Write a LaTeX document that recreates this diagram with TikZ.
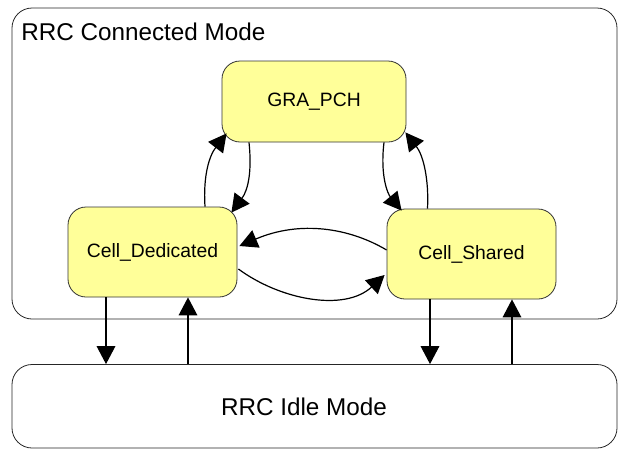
\documentclass[tikz,border=0pt]{standalone}
\usepackage{fontspec}
\setmainfont{Liberation Sans}
\usetikzlibrary{arrows.meta,calc}

\newlength{\du}
\setlength{\du}{0.75pt}
\definecolor{statefill}{rgb}{1.000000, 1.000000, 0.600000}
\definecolor{statedraw}{rgb}{0.200000, 0.200000, 0.200000}
\tikzset{
  modebox/.style={draw=black!85, line width=0.6pt, rounded corners=15pt, inner sep=0pt},
  modetext/.style={inner sep=0pt, font=\fontsize{18.2}{22}\selectfont},
  statebox/.style={draw=statedraw, fill=statefill, line width=0.6pt, rounded corners=13.5pt,
    inner sep=0pt, font=\fontsize{14.5}{17}\selectfont},
  trans/.style={-{Triangle[length=13.5pt,width=14pt]}, line width=0.9pt},
}

\begin{document}
\begin{tikzpicture}[x=1\du, y=-1\du]
\useasboundingbox (0,0) rectangle (618,450);
% modes
\node[modebox, minimum width=605\du, minimum height=311\du] (conn) at (314.5,163.5) {};
\node[modetext, anchor=west] (conntitle) at (21,31.5) {RRC Connected Mode};
\node[modebox, minimum width=605\du, minimum height=83.5\du] (idle) at (314.5,406.25) {};
\node[modetext] (idletitle) at (304,407) {RRC Idle Mode};
% states
\node[statebox, minimum width=184\du, minimum height=81\du] (gra) at (314,101.5) {GRA\_PCH};
\node[statebox, minimum width=169\du, minimum height=90\du] (cd) at (152.5,252) {Cell\_Dedicated};
\node[statebox, minimum width=169\du, minimum height=90\du] (cs) at (471.5,254) {Cell\_Shared};
% transitions inside connected mode
\draw[trans] ($(cd.north)+(52.5,0)$) .. controls +(-2,-32) and +(-17,22) .. ($(gra.south west)+(5,-9)$);
\draw[trans] ($(gra.south)+(-65,0)$) .. controls +(3,28) and +(17,-23) .. ($(cd.north east)+(-6,6)$);
\draw[trans] ($(gra.south)+(70,0)$) .. controls +(-4,33) and +(-14,-17) .. ($(cs.north west)+(15,2)$);
\draw[trans] ($(cs.north)+(-44,0)$) .. controls +(1.5,-29) and +(18,23) .. ($(gra.south east)+(-1,-10)$);
\draw[trans] ($(cs.west)+(0,-4)$) .. controls +(-37,-22) and +(61,-26) .. ($(cd.east)+(2,-6)$);
\draw[trans] ($(cd.east)+(1,17)$) .. controls +(42,31) and +(-40,37) .. ($(cs.west)+(-2,21)$);
% transitions to and from idle mode
\coordinate (cddown) at ($(cd.south)+(-46.5,0)$);
\coordinate (cdup) at ($(cd.south)+(35.5,0)$);
\coordinate (csdown) at ($(cs.south)+(-41.5,0)$);
\coordinate (csup) at ($(cs.south)+(40.5,0)$);
\draw[trans] (cddown) -- (cddown |- idle.north);
\draw[trans] (cdup |- idle.north) -- (cdup);
\draw[trans] (csdown) -- (csdown |- idle.north);
\draw[trans] (csup |- idle.north) -- (csup);
\end{tikzpicture}
\end{document}
